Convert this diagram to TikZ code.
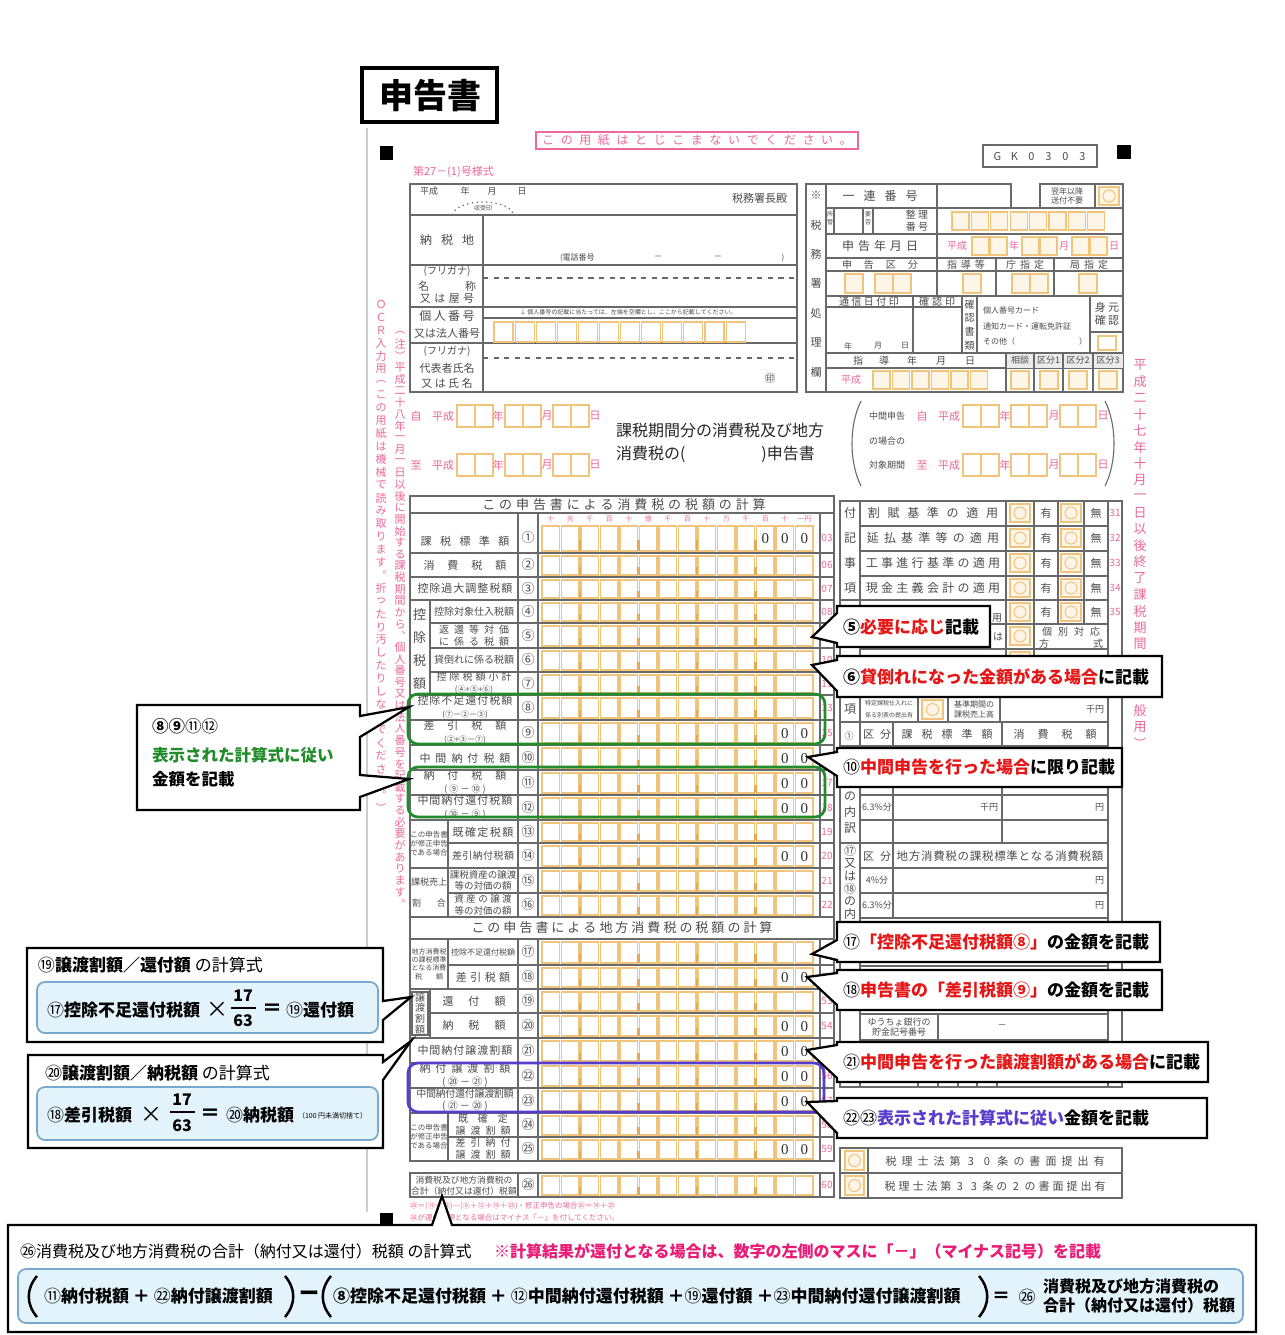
\documentclass[tikz,border=0pt]{standalone}
\usepackage{fontspec}
\setmainfont{Noto Sans CJK JP}
\newfontfamily\numfont{Liberation Serif}
\usetikzlibrary{calc}
\newdimen\pxu \pxu=0.56905pt
\newdimen\jsw
\newcommand\fpx[1]{\fontsize{#1\pxu}{1.2\dimexpr#1\pxu\relax}\selectfont}
\newcommand\cm[1]{{\mdseries #1}}
\makeatletter
\def\jspread#1#2{\hbox{\jsw=#1\relax\jspread@#2\relax}}
\def\jspread@#1{\ifx#1\relax\else\hbox to\jsw{\hss#1\hss}\expandafter\jspread@\fi}
\def\jvert#1#2{\vbox{\offinterlineskip\jsw=#1\relax\jvert@#2\relax}}
\def\jvert@#1{\ifx#1\relax\else\vbox to\jsw{\vss\hbox to1em{\hss#1\hss}\vss}\expandafter\jvert@\fi}
\makeatother
\definecolor{formgray}{RGB}{105,105,105}
\definecolor{formtext}{RGB}{75,75,75}
\definecolor{formpink}{RGB}{236,105,155}
\definecolor{boxor}{RGB}{240,196,122}
\definecolor{tickor}{RGB}{232,170,80}
\definecolor{boxfill}{RGB}{253,245,232}
\definecolor{crimson}{RGB}{228,22,22}
\definecolor{okgreen}{RGB}{32,140,42}
\definecolor{purp}{RGB}{88,60,205}
\definecolor{lbfill}{RGB}{226,243,252}
\definecolor{lbborder}{RGB}{120,168,205}
\definecolor{magen}{RGB}{232,28,118}
\definecolor{dimline}{RGB}{205,205,205}
\newcommand\crow[7]{%
  \draw[fl] (#1,#3) -- (834,#3);
  \node[cn] (c#7) at (528,{(#2+#3)/2}) {#4};
  \node[cd] (k#7) at (827,{(#2+#3)/2}) {#5};
  \foreach \k in {0,...,13}{\draw[obox] ({542+\k*19.5},{#2+3}) rectangle ({559.5+\k*19.5},{#3-2});}
  \foreach \k in {2,5,8,11}{\draw[dtick] ({541+\k*19.5},{(#2+#3)/2+2}) -- ({541+\k*19.5},{#3-2});}
  \ifnum#6>0 \foreach \k in {1,...,#6}{\node[zero] (z#7x\k) at ({550.75+(14-\k)*19.5},{(#2+#3)/2+1}) {0};}\fi
}
\begin{document}
\begin{tikzpicture}[x=0.2mm,y=-0.2mm,
  every node/.style={inner sep=0pt,outer sep=0pt},
  fl/.style={draw=formgray,line width=0.22mm},
  flt/.style={draw=formgray,line width=0.32mm},
  obox/.style={draw=boxor,line width=0.22mm,fill=white},
  cbox/.style={draw=boxor,line width=0.22mm,fill=boxfill},
  oring/.style={draw=boxor,line width=0.2mm},
  dtick/.style={draw=tickor,line width=0.5mm},
  lab/.style={text=formtext,font=\fpx{11}},
  pk/.style={text=formpink,font=\fpx{10}},
  cn/.style={text=formtext,font=\fpx{13}},
  cd/.style={text=formpink,font=\fpx{10}},
  zero/.style={text=black!80,font=\numfont\fpx{15}},
  cout/.style={draw=black,line width=0.45mm,fill=white,line join=miter},
  cot/.style={anchor=west,font=\fpx{17}\bfseries},
  lbox/.style={draw=lbborder,line width=0.35mm,fill=lbfill,rounded corners=1.6mm},
  hl/.style={line width=0.55mm,rounded corners=2mm},
]
\useasboundingbox (0,0) rectangle (1285,1335);
\fill[white] (0,0) rectangle (1285,1335);

% ---------- title ----------
\draw[line width=0.65mm] (362,68) rectangle (497,122);
\node[font=\fpx{34}\bfseries] (title) at (430,96) {申告書};

\draw[dimline,line width=0.3mm] (367,128) -- (367,1212);

\draw[formpink,line width=0.25mm] (536,132) rectangle (858,149);
\node[text=formpink,font=\fpx{12}] (nobind) at (697,140.5) {\jspread{18.6\pxu}{この用紙はとじこまないでください。}};
\fill (380,146) rectangle (393,160);
\fill (1117,145) rectangle (1131,159);
\draw[fl] (983,145) rectangle (1097,167);
\node[text=formtext,font=\fpx{11}] (gk) at (1040,156) {\jspread{17\pxu}{GK0303}};
\node[anchor=west,text=formpink,font=\fpx{11}] (fmt) at (413,172) {第27－(1)号様式};

% ---------- top-left block ----------
\draw[fl] (410,184) rectangle (797,392);
\foreach \y in {215,265,307,343} \draw[fl] (410,\y) -- (797,\y);
\draw[fl] (483,215) -- (483,392);
\draw[fl,dashed] (483,278) -- (797,278);
\draw[fl,dashed] (483,358) -- (797,358);
\draw[fl] (483,318) -- (797,318);
\node[lab,font=\fpx{9}] (hs) at (429,191) {平成};
\node[lab,font=\fpx{9}] (hy) at (465,191) {年};
\node[lab,font=\fpx{9}] (hm) at (492,191) {月};
\node[lab,font=\fpx{9}] (hd) at (522,191) {日};
\node[lab,anchor=east] (chief) at (787,198) {税務署長殿};
\draw[formgray,dotted,line width=0.25mm] (453,215) arc[start angle=180,end angle=360,x radius=30,y radius=13];
\node[lab,font=\fpx{6}] (juju) at (483,208) {収受印};
\node[lab,font=\fpx{12}] (nozei) at (447,240) {\jspread{21\pxu}{納税地}};
\node[lab,font=\fpx{8},anchor=west] (tel) at (560,258) {(電話番号};
\node[lab,font=\fpx{8}] (tel1) at (658,258) {－};
\node[lab,font=\fpx{8}] (tel2) at (718,258) {－};
\node[lab,font=\fpx{8}] (tel3) at (783,258) {)};
\node[lab,font=\fpx{10}] (furi1) at (447,271) {(フリガナ)};
\node[lab] (mei) at (447,286) {\hbox to 58\pxu{名\hfill 称}};
\node[lab] (yago) at (447,299) {\jspread{14.5\pxu}{又は屋号}};
\node[lab,font=\fpx{12}] (kojin) at (447,316) {\jspread{14.5\pxu}{個人番号}};
\node[lab] (hojin) at (447,333) {又は法人番号};
\node[lab,font=\fpx{6},anchor=west] (note4) at (520,312) {↓ 個人番号の記載に当たっては、左端を空欄とし、ここから記載してください。};
\foreach \k in {0,...,11} \draw[obox] ({494+\k*21.1},322) rectangle ({494+\k*21.1+19},342);
\node[lab,font=\fpx{10}] (furi2) at (447,351) {(フリガナ)};
\node[lab] (daihyo) at (447,368) {代表者氏名};
\node[lab] (shimei) at (447,383) {\jspread{13.5\pxu}{又は氏名}};
\node[lab] (inn) at (770,378) {㊞};

% ---------- top-right block ----------
\draw[fl] (806,184) rectangle (826,392);
\node[lab,font=\fpx{11},anchor=north] (zeimu) at (816,181) {\jvert{29.4\pxu}{※税務署処理欄}};
\draw[fl] (826,184) rectangle (1011,208);
\draw[fl] (937,184) -- (937,296);
\node[lab,font=\fpx{12}] (renban) at (880,196) {\jspread{21\pxu}{一連番号}};
\draw[fl] (1040,184) rectangle (1123,208);
\draw[fl] (1095,184) -- (1095,208);
\node[lab,font=\fpx{8},align=center] (yokunen) at (1067,196) {翌年以降\\送付不要};
\draw[cbox] (1099,187) rectangle (1119,205);
\draw[oring] (1109,196) circle (6);
\draw[fl] (826,208) rectangle (1123,392);
\foreach \y in {234,258,271,296,353,368} \draw[fl] (826,\y) -- (1123,\y);
\draw[fl] (834,208) -- (834,234);
\draw[fl] (863,208) -- (863,234);
\draw[fl] (873,208) -- (873,234);
\node[lab,font=\fpx{6},anchor=north] (shokan) at (830,210) {\jvert{8\pxu}{所管}};
\node[lab,font=\fpx{6},anchor=north] (yohi) at (868,210) {\jvert{8\pxu}{要否}};
\node[lab,font=\fpx{10},align=center] (seiri) at (917,221) {整 理\\番 号};
\foreach \k in {0,...,7} \draw[cbox] ({952+\k*19.4},212) rectangle ({969+\k*19.4},230);
\node[lab,font=\fpx{12}] (shinkokubi) at (880,246) {\jspread{16\pxu}{申告年月日}};
\node[pk] (sh1) at (957,246) {平成};
\foreach \x in {972,990,1022,1040,1072,1090} \draw[cbox] (\x,237) rectangle ({\x+17},255);
\node[pk] (sh2) at (1014,246) {年};
\node[pk] (sh3) at (1064,246) {月};
\node[pk] (sh4) at (1114,246) {日};
\node[lab,font=\fpx{10}] (kubun) at (880,264.5) {\jspread{22\pxu}{申告区分}};
\node[lab,font=\fpx{10}] (shido) at (966,264.5) {\jspread{14\pxu}{指導等}};
\node[lab,font=\fpx{10}] (chosh) at (1025,264.5) {\jspread{14\pxu}{庁指定}};
\node[lab,font=\fpx{10}] (kyoku) at (1089,264.5) {\jspread{14\pxu}{局指定}};
\draw[fl] (996,258) -- (996,296);
\draw[fl] (1054,258) -- (1054,296);
\foreach \x in {845,875,893,963,1012,1030,1079} \draw[cbox] (\x,274) rectangle ({\x+18},293);
\draw[fl] (826,307) -- (962,307);
\draw[fl] (913,296) -- (913,353);
\draw[fl] (962,296) -- (962,353);
\draw[fl] (977,296) -- (977,353);
\draw[fl] (1090,296) -- (1090,353);
\draw[fl] (1090,332) -- (1123,332);
\node[lab,font=\fpx{10}] (tsushin) at (869,301.5) {\jspread{12.5\pxu}{通信日付印}};
\node[lab,font=\fpx{10}] (kakunin) at (937,301.5) {\jspread{13\pxu}{確認印}};
\node[lab,font=\fpx{10},anchor=north] (kakusho) at (969.5,298) {\jvert{13.5\pxu}{確認書類}};
\node[lab,font=\fpx{8},anchor=west] (card1) at (983,310) {個人番号カード};
\node[lab,font=\fpx{8},anchor=west] (card2) at (983,326) {通知カード・運転免許証};
\node[lab,font=\fpx{8},anchor=west] (card3) at (983,341) {その他（};
\node[lab,font=\fpx{8}] (card4) at (1083,341) {）};
\node[lab,font=\fpx{11},align=center] (mimoto) at (1107,314) {身 元\\確 認};
\draw[obox] (1098,336) rectangle (1116,350);
\node[lab,font=\fpx{8}] (ty) at (848,346) {年};
\node[lab,font=\fpx{8}] (tm) at (878,346) {月};
\node[lab,font=\fpx{8}] (td) at (905,346) {日};
\fill[black!8] (1006,353.5) rectangle (1122.5,367.5);
\foreach \x in {1006,1034,1063,1093} \draw[fl] (\x,353) -- (\x,392);
\node[lab,font=\fpx{10}] (s1) at (858,360.5) {指};
\node[lab,font=\fpx{10}] (s2) at (884,360.5) {導};
\node[lab,font=\fpx{10}] (s3) at (912,360.5) {年};
\node[lab,font=\fpx{10}] (s4) at (941,360.5) {月};
\node[lab,font=\fpx{10}] (s5) at (970,360.5) {日};
\node[lab,font=\fpx{9}] (sodan) at (1020,360.5) {相談};
\node[lab,font=\fpx{9}] (kb1) at (1048.5,360.5) {区分1};
\node[lab,font=\fpx{9}] (kb2) at (1078,360.5) {区分2};
\node[lab,font=\fpx{9}] (kb3) at (1108,360.5) {区分3};
\node[pk] (sh5) at (851,380) {平成};
\foreach \k in {0,...,5} \draw[cbox] ({873+\k*19.5},371) rectangle ({890+\k*19.5},389);
\foreach \x in {1011,1040,1069,1099} \draw[cbox] (\x,371) rectangle ({\x+18},389);

% ---------- period rows ----------
\foreach \yc/\jj/\nm in {416/自/a,465/至/b}{
  \node[pk,font=\fpx{11}] (pz\nm) at (416,\yc) {\jj};
  \node[pk,font=\fpx{11}] (ph\nm) at (443,\yc) {平成};
  \foreach \x in {457,475,505,523,553,571} \draw[obox] (\x,{\yc-11}) rectangle ({\x+18},{\yc+11});
  \node[pk,font=\fpx{11}] (py\nm) at (498,\yc) {年};
  \node[pk,font=\fpx{11}] (pm\nm) at (547,\yc) {月};
  \node[pk,font=\fpx{11}] (pd\nm) at (595,\yc) {日};
  \node[pk,font=\fpx{11}] (qz\nm) at (922,\yc) {\jj};
  \node[pk,font=\fpx{11}] (qh\nm) at (949,\yc) {平成};
  \foreach \x in {963,981,1011,1029,1060,1078} \draw[obox] (\x,{\yc-11}) rectangle ({\x+18},{\yc+11});
  \node[pk,font=\fpx{11}] (qy\nm) at (1005,\yc) {年};
  \node[pk,font=\fpx{11}] (qm\nm) at (1054,\yc) {月};
  \node[pk,font=\fpx{11}] (qd\nm) at (1103,\yc) {日};
}
\node[lab,font=\fpx{9}] (chukan) at (887,416) {中間申告};
\node[lab,font=\fpx{9}] (baai) at (887,441) {の場合の};
\node[lab,font=\fpx{9}] (taisho) at (887,465) {対象期間};
\draw[fl] (861,401) .. controls (849,425) and (849,462) .. (861,486);
\draw[fl] (1105,401) .. controls (1117,425) and (1117,462) .. (1105,486);
\node[anchor=west,font=\fpx{16},text=black!85] (kikan1) at (616,430) {課税期間分の消費税及び地方};
\node[anchor=west,font=\fpx{16},text=black!85] (kikan2) at (616,454) {消費税の(\hspace*{76\pxu})申告書};

% ---------- calculation table ----------
\draw[flt] (410,496) rectangle (834,1161);
\draw[fl] (410,513) -- (834,513);
\node[text=formtext,font=\fpx{13}] (calc1) at (624,505) {\jspread{16.9\pxu}{この申告書による消費税の税額の計算}};
\foreach \x in {518,538,820} {\draw[fl] (\x,513) -- (\x,917); \draw[fl] (\x,939) -- (\x,1161);}
\draw[fl] (430,600) -- (430,695);
\draw[fl] (448,820) -- (448,917);
\draw[fl] (448,939) -- (448,989);
\draw[fl] (430,989) -- (430,1038);
\draw[fl] (448,1113) -- (448,1161);
\foreach \t [count=\i from 0] in {十,兆,千,百,十,億,千,百,十,万,千,百,十,一円}
  \node[text=formpink,font=\fpx{7}] (dh\i) at ({550.75+\i*19.5},519) {\t};
\crow{410}{523}{553}{①}{03}{3}{1}
\crow{410}{553}{577}{②}{06}{0}{2}
\crow{410}{577}{600}{③}{07}{0}{3}
\crow{430}{600}{623}{④}{08}{0}{4}
\crow{430}{623}{648}{⑤}{09}{0}{5}
\crow{430}{648}{672}{⑥}{10}{0}{6}
\crow{410}{672}{695}{⑦}{11}{0}{7}
\crow{410}{695}{720}{⑧}{13}{0}{8}
\crow{410}{720}{745}{⑨}{15}{2}{9}
\crow{410}{745}{770}{⑩}{16}{2}{10}
\crow{410}{770}{795}{⑪}{17}{2}{11}
\crow{410}{795}{820}{⑫}{18}{2}{12}
\crow{448}{820}{843}{⑬}{19}{0}{13}
\crow{410}{843}{868}{⑭}{20}{2}{14}
\crow{448}{868}{893}{⑮}{21}{0}{15}
\crow{410}{893}{917}{⑯}{22}{0}{16}
\draw[flt] (410,917) -- (834,917);
\draw[fl] (410,939) -- (834,939);
\node[text=formtext,font=\fpx{13}] (calc2) at (622,928) {\jspread{16\pxu}{この申告書による地方消費税の税額の計算}};
\crow{448}{939}{965}{⑰}{51}{0}{17}
\crow{410}{965}{989}{⑱}{52}{2}{18}
\crow{430}{989}{1013}{⑲}{53}{0}{19}
\crow{410}{1013}{1038}{⑳}{54}{2}{20}
\crow{410}{1038}{1063}{㉑}{55}{2}{21}
\crow{410}{1063}{1088}{㉒}{56}{2}{22}
\crow{410}{1088}{1113}{㉓}{57}{2}{23}
\crow{448}{1113}{1137}{㉔}{58}{0}{24}
\crow{410}{1137}{1161}{㉕}{59}{2}{25}
\draw[flt] (410,1173) rectangle (834,1197);
\foreach \x in {518,538,820} \draw[fl] (\x,1173) -- (\x,1197);
\crow{410}{1173}{1197}{㉖}{60}{0}{26}
\draw[flt] (410,1197) -- (834,1197);

% row labels
\node[lab] (l1) at (465,541) {\jspread{19.4\pxu}{課税標準額}};
\node[lab] (l2) at (465,565) {\jspread{24\pxu}{消費税額}};
\node[lab] (l3) at (465,588.5) {\jspread{12\pxu}{控除過大調整税額}};
\node[lab,font=\fpx{13},anchor=north] (lkj) at (419.5,603) {\jvert{23\pxu}{控除税額}};
\node[lab,font=\fpx{10}] (l4) at (474,611.5) {\jspread{10\pxu}{控除対象仕入税額}};
\node[lab,font=\fpx{10},align=center] (l5) at (474,635.5) {\jspread{15\pxu}{返還等対価}\\\jspread{15\pxu}{に係る税額}};
\node[lab,font=\fpx{10}] (l6) at (474,660) {\jspread{10\pxu}{貸倒れに係る税額}};
\node[lab,font=\fpx{10},align=center] (l7) at (474,683.5) {\jspread{13\pxu}{控除税額小計}\\{\fpx{8}(④+⑤+⑥)}};
\node[lab,align=center] (l8) at (465,707.5) {\jspread{12\pxu}{控除不足還付税額}\\{\fpx{8}(⑦－②－③)}};
\node[lab,align=center] (l9) at (465,732.5) {\jspread{24\pxu}{差引税額}\\{\fpx{8}(②+③－⑦)}};
\node[lab] (l10) at (465,758) {\jspread{16\pxu}{中間納付税額}};
\node[lab,align=center] (l11) at (465,782.5) {\jspread{24\pxu}{納付税額}\\{\fpx{9}( ⑨ － ⑩ )}};
\node[lab,align=center] (l12) at (465,807.5) {\jspread{12\pxu}{中間納付還付税額}\\{\fpx{9}( ⑩ － ⑨ )}};
\node[lab,font=\fpx{7.5},align=center] (s1314) at (429,844) {この申告書\\が修正申告\\である場合};
\node[lab] (l13) at (483,832) {\jspread{12.4\pxu}{既確定税額}};
\node[lab,font=\fpx{10}] (l14) at (483,856) {\jspread{10.4\pxu}{差引納付税額}};
\node[lab,font=\fpx{9}] (s15a) at (429,882) {課税売上};
\node[lab,font=\fpx{9}] (s15b) at (429,903) {\hbox to 34\pxu{割\hfill 合}};
\node[lab,font=\fpx{9.5},align=center] (l15) at (483,880.5) {課税資産の譲渡\\等の対価の額};
\node[lab,font=\fpx{9.5},align=center] (l16) at (483,905) {\jspread{12\pxu}{資産の譲渡}\\等の対価の額};
\node[lab,font=\fpx{7},align=center] (s1718) at (429,964) {地方消費税\\の課税標準\\となる消費\\税\hspace{14\pxu}額};
\node[lab,font=\fpx{8}] (l17) at (483,952) {控除不足還付税額};
\node[lab] (l18) at (483,977) {\jspread{14.5\pxu}{差引税額}};
\draw[fl] (412,992) rectangle (428,1035);
\node[lab,font=\fpx{10},anchor=north] (s1920) at (420,992) {\jvert{10.7\pxu}{譲渡割額}};
\node[lab] (l19) at (474,1001) {\jspread{26\pxu}{還付額}};
\node[lab] (l20) at (474,1025.5) {\jspread{26\pxu}{納税額}};
\node[lab] (l21) at (465,1050.5) {\jspread{12\pxu}{中間納付譲渡割額}};
\node[lab,align=center] (l22) at (465,1075.5) {\jspread{16\pxu}{納付譲渡割額}\\{\fpx{10}( ⑳ － ㉑ )}};
\node[lab,font=\fpx{10},align=center] (l23) at (465,1100.5) {\jspread{9.7\pxu}{中間納付還付譲渡割額}\\( ㉑ － ⑳ )};
\node[lab,font=\fpx{7.5},align=center] (s2425) at (429,1137) {この申告書\\が修正申告\\である場合};
\node[lab,font=\fpx{10},align=center] (l24) at (483,1125) {\jspread{20\pxu}{既確定}\\\jspread{15\pxu}{譲渡割額}};
\node[lab,font=\fpx{10},align=center] (l25) at (483,1149) {\jspread{15\pxu}{差引納付}\\\jspread{15\pxu}{譲渡割額}};
\node[lab,font=\fpx{8.8},align=center] (l26) at (464,1185.5) {消費税及び地方消費税の\\合計（納付又は還付）税額};
\node[anchor=west,text=formpink,font=\fpx{7.5}] (nt1) at (410,1206) {㉖＝(⑪＋㉒)－(⑧＋⑫＋⑲＋㉓)・修正申告の場合㉖＝⑭＋㉕};
\node[anchor=west,text=formpink,font=\fpx{7.5}] (nt2) at (410,1218) {㉖が還付税額となる場合はマイナス「－」を付してください。};

% ---------- right block ----------
\draw[fl] (840,501) rectangle (1122,1087);
\draw[fl] (1108,501) -- (1108,1087);
\draw[fl] (860,501) -- (860,1087);
\foreach \y in {526,551,576,624,649,673,697,770,795,820,868,893,918,942,966,990,1014,1040,1064} \draw[fl] (860,\y) -- (1108,\y);
\foreach \y in {600,722,746,843} \draw[fl] (840,\y) -- (1108,\y);
\foreach \x in {1006,1034,1058,1084} \draw[fl] (\x,501) -- (\x,624);
\draw[fl] (1006,624) -- (1006,673);
\draw[fl] (1034,624) -- (1034,673);
\foreach \x in {918,948,1000} \draw[fl] (\x,697) -- (\x,722);
\draw[fl] (893,722) -- (893,918);
\draw[fl] (1002,722) -- (1002,843);
\draw[fl] (938,1014) -- (938,1040);
\foreach \x in {918,938,958,977,997} \draw[fl] (\x,1064) -- (\x,1087);
\foreach \c/\y [count=\i] in {付/513,記/538,事/563,項/588} \node[lab,font=\fpx{12}] (fkc\i) at (850,\y) {\c};
\node[lab,font=\fpx{12}] (fk1) at (933,513) {\jspread{19.7\pxu}{割賦基準の適用}};
\node[lab,font=\fpx{12}] (fk2) at (933,538) {\jspread{17.2\pxu}{延払基準等の適用}};
\node[lab,font=\fpx{12}] (fk3) at (933,563) {\jspread{15.3\pxu}{工事進行基準の適用}};
\node[lab,font=\fpx{12}] (fk4) at (933,588) {\jspread{15.3\pxu}{現金主義会計の適用}};
\node[lab,font=\fpx{10}] (fk5) at (997,618) {用};
\foreach \y/\cc [count=\i] in {513/31,538/32,563/33,588/34,612/35}{
  \draw[cbox] (1010,{\y-9}) rectangle (1030,{\y+9});
  \draw[oring] (1020,\y) circle (6);
  \draw[cbox] (1061,{\y-9}) rectangle (1081,{\y+9});
  \draw[oring] (1071,\y) circle (6);
  \node[lab] (yu\i) at (1046,\y) {有};
  \node[lab] (mu\i) at (1096,\y) {無};
  \node[cd] (fc\i) at (1115,\y) {\cc};
}
\foreach \y [count=\i] in {636,661}{
  \draw[cbox] (1010,{\y-9}) rectangle (1030,{\y+9});
  \draw[oring] (1020,\y) circle (6);
}
\node[lab,font=\fpx{10}] (ha) at (998,637) {は};
\node[lab,font=\fpx{10},align=center] (kobetsu) at (1071,638) {\jspread{16\pxu}{個別対応}\\\hbox to 64\pxu{方\hfill 式}};
\node[lab,font=\fpx{12}] (kou) at (850,709) {項};
\node[lab,font=\fpx{6}] (tokutei1) at (889,703.5) {特定課税仕入れに};
\node[lab,font=\fpx{6}] (tokutei2) at (889,715.5) {係る別表の提出有};
\draw[cbox] (922,700) rectangle (943,719);
\draw[oring] (932.5,709.5) circle (6);
\node[lab,font=\fpx{8},align=center] (kijun) at (974,709.5) {基準期間の\\課税売上高};
\node[lab,font=\fpx{9},anchor=east] (senen) at (1104,709.5) {千円};
\node[lab,font=\fpx{9}] (maru1) at (849,736) {①};
\node[lab] (kubun2) at (877,734) {\hbox to 28\pxu{区\hfill 分}};
\node[lab] (kzh) at (947,734) {\jspread{20\pxu}{課税標準額}};
\node[lab] (shz) at (1055,734) {\jspread{24\pxu}{消費税額}};
\node[lab,font=\fpx{12},anchor=north] (uchi1) at (850,789) {\jvert{15.5\pxu}{の内訳}};
\node[lab,font=\fpx{9}] (p63a) at (877,807.5) {6.3\%分};
\node[lab,font=\fpx{9},anchor=east] (sen2) at (998,807.5) {千円};
\node[lab,font=\fpx{9},anchor=east] (en2) at (1104,807.5) {円};
\node[lab,font=\fpx{12},anchor=north] (uchi2) at (850,845) {\jvert{12.6\pxu}{⑰又は⑱の内}};
\node[lab] (kubun3) at (877,856) {\hbox to 28\pxu{区\hfill 分}};
\node[lab,font=\fpx{11.5}] (chihou) at (1000,856) {\jspread{12.2\pxu}{地方消費税の課税標準となる消費税額}};
\node[lab,font=\fpx{9}] (p4) at (877,880.5) {4\%分};
\node[lab,font=\fpx{9},anchor=east] (en3) at (1104,880.5) {円};
\node[lab,font=\fpx{9}] (p63b) at (877,905.5) {6.3\%分};
\node[lab,font=\fpx{9},anchor=east] (en4) at (1104,905.5) {円};
\node[lab,font=\fpx{9},align=center] (yucho) at (899,1027) {ゆうちょ銀行の\\貯金記号番号};
\node[lab,font=\fpx{9}] (yucho2) at (1002,1027) {－};
\draw[fl] (840,1148) rectangle (1122,1198);
\draw[fl] (840,1173) -- (1122,1173);
\draw[fl] (868,1148) -- (868,1198);
\foreach \y [count=\i] in {1160.5,1185.5}{
  \draw[cbox] (845,{\y-9.5}) rectangle (864,{\y+9.5});
  \draw[oring] (854.5,\y) circle (6);
}
\node[lab] (zr30) at (995,1161) {\jspread{16\pxu}{税理士法第30条の書面提出有}};
\node[lab] (zr33) at (995,1186) {\jspread{14\pxu}{税理士法第33条の2の書面提出有}};

% ---------- pink vertical notes ----------
\node[anchor=north,text=formpink,font=\fpx{11}] (ocr) at (381,298) {\jvert{12.9\pxu}{ＯＣＲ入力用︵この用紙は機械で読み取ります︒折ったり汚したりしないでください︒︶}};
\node[anchor=north,text=formpink,font=\fpx{11}] (chu) at (400,327) {\jvert{11.65\pxu}{︵注︶平成二十八年一月一日以後に開始する課税期間から︑個人番号又は法人番号を記載する必要があります︒}};
\node[anchor=north,text=formpink,font=\fpx{13}] (ippan) at (1140,357) {\jvert{16.4\pxu}{平成二十七年十月一日以後終了課税期間}};
\node[anchor=north,text=formpink,font=\fpx{13}] (ippan2) at (1140,702) {\jvert{16.4\pxu}{般用︶}};

% ---------- highlight frames ----------
\draw[okgreen,hl] (408,694) rectangle (825,744);
\draw[okgreen,hl] (408,767) rectangle (825,817);
\draw[purp,hl] (408,1063) rectangle (824,1112);

\fill (380,1213) rectangle (393,1227);

% ---------- callouts right ----------
\path[cout] (837,606) -- (990,606) -- (990,647) -- (837,647) -- (837,643) -- (812,637) -- (837,613) -- cycle;
\node[cot] (co5) at (843,627) {⑤\textcolor{crimson}{必要に応じ}記載};
\path[cout] (837,656) -- (1162,656) -- (1162,697) -- (837,697) -- (837,691) -- (812,665) -- (837,660) -- cycle;
\node[cot] (co6) at (843,677) {⑥\textcolor{crimson}{貸倒れになった金額がある場合}に記載};
\path[cout] (837,748) -- (1122,748) -- (1122,787) -- (837,787) -- (837,776) -- (808,757) -- (837,752) -- cycle;
\node[cot] (co10) at (843,767.5) {\cm{⑩}\textcolor{crimson}{中間申告を行った場合}に限り記載};
\path[cout] (837,922) -- (1160,922) -- (1160,962) -- (837,962) -- (837,960) -- (812,954) -- (837,940) -- cycle;
\node[cot] (co17) at (843,942) {\cm{⑰}\textcolor{crimson}{「控除不足還付税額⑧」}の金額を記載};
\path[cout] (837,970) -- (1162,970) -- (1162,1010) -- (837,1010) -- (837,1005) -- (807,977) -- (837,973) -- cycle;
\node[cot] (co18) at (843,990) {\cm{⑱}\textcolor{crimson}{申告書の「差引税額⑨」}の金額を記載};
\path[cout] (837,1042) -- (1208,1042) -- (1208,1082) -- (837,1082) -- (837,1078) -- (807,1050) -- (837,1045) -- cycle;
\node[cot] (co21) at (843,1062) {\cm{㉑}\textcolor{crimson}{中間申告を行った譲渡割額がある場合}に記載};
\path[cout] (837,1098) -- (1207,1098) -- (1207,1138) -- (837,1138) -- (837,1133) -- (807,1102) -- (837,1101) -- cycle;
\node[cot] (co22) at (843,1118) {\cm{㉒㉓}\textcolor{purp}{表示された計算式に従い}金額を記載};

% ---------- callouts left ----------
\path[cout] (137,705) -- (360,705) -- (360,716) -- (409,707) -- (360,737) -- (360,775) -- (409,779) -- (360,797) -- (360,810) -- (137,810) -- cycle;
\node[cot,font=\fpx{16.5}\bfseries] (t8a) at (152,726) {⑧⑨\cm{⑪⑫}};
\node[cot,font=\fpx{16.5}\bfseries,text=okgreen] (t8b) at (152,755) {表示された計算式に従い};
\node[cot,font=\fpx{16.5}\bfseries] (t8c) at (152,779) {金額を記載};

\path[cout] (27,948) -- (383,948) -- (383,1001) -- (411,997) -- (383,1020) -- (383,1042) -- (27,1042) -- cycle;
\node[anchor=west,font=\fpx{17}] (h19) at (38,965) {\textbf{\cm{⑲}譲渡割額／還付額} の計算式};
\draw[lbox] (37,982) rectangle (378,1033);
\node[cot] (f19a) at (47,1010) {\cm{⑰}控除不足還付税額};
\node[font=\fpx{22}] (f19x) at (217,1010) {×};
\node[font=\fpx{16}\bfseries] (f19n) at (243,996) {17};
\draw[line width=0.45mm] (231,1008) -- (256,1008);
\node[font=\fpx{16}\bfseries] (f19d) at (243,1021) {63};
\node[font=\fpx{20}\bfseries] (f19e) at (272,1010) {＝};
\node[cot] (f19r) at (286,1010) {\cm{⑲}還付額};

\path[cout] (28,1055) -- (383,1055) -- (383,1062) -- (411,1041) -- (383,1080) -- (383,1148) -- (28,1148) -- cycle;
\node[anchor=west,font=\fpx{17}] (h20) at (45,1073) {\textbf{\cm{⑳}譲渡割額／納税額} の計算式};
\draw[lbox] (37,1087) rectangle (378,1140);
\node[cot] (f20a) at (47,1115) {\cm{⑱}差引税額};
\node[font=\fpx{22}] (f20x) at (151,1115) {×};
\node[font=\fpx{16}\bfseries] (f20n) at (182,1100) {17};
\draw[line width=0.45mm] (170,1112) -- (195,1112);
\node[font=\fpx{16}\bfseries] (f20d) at (182,1126) {63};
\node[font=\fpx{20}\bfseries] (f20e) at (210,1115) {＝};
\node[cot] (f20r) at (226,1115) {\cm{⑳}納税額};
\node[anchor=west,font=\fpx{7}] (f20s) at (298,1116) {（100 円未満切捨て）};

% ---------- bottom callout ----------
\path[cout] (8,1225) -- (432,1225) -- (442,1196) -- (452,1225) -- (1256,1225) -- (1256,1332) -- (8,1332) -- cycle;
\node[anchor=west,font=\fpx{16}] (h26) at (20,1251) {㉖消費税及び地方消費税の合計（納付又は還付）税額 の計算式};
\node[anchor=west,font=\fpx{16}\bfseries,text=magen] (h26n) at (494,1251) {※計算結果が還付となる場合は、数字の左側のマスに「－」（マイナス記号）を記載};
\draw[lbox] (18,1269) rectangle (1243,1323);
\draw[line width=0.5mm] (37,1276) .. controls (26,1289) and (26,1304) .. (37,1317);
\node[cot] (fa) at (44,1296) {\cm{⑪}納付税額 ＋ \cm{㉒}納付譲渡割額};
\draw[line width=0.5mm] (285,1276) .. controls (296,1289) and (296,1304) .. (285,1317);
\node[font=\fpx{20}\bfseries] (fminus) at (309,1296) {ー};
\draw[line width=0.5mm] (331,1276) .. controls (320,1289) and (320,1304) .. (331,1317);
\node[cot] (fb) at (333,1296) {⑧控除不足還付税額 ＋ \cm{⑫}中間納付還付税額 ＋\cm{⑲}還付額 ＋\cm{㉓}中間納付還付譲渡割額};
\draw[line width=0.5mm] (979,1276) .. controls (990,1289) and (990,1304) .. (979,1317);
\node[font=\fpx{18}\bfseries] (feq) at (1001,1297) {＝};
\node[font=\fpx{17}] (f26) at (1027,1297) {㉖};
\node[anchor=west,font=\fpx{16}\bfseries,align=left] (fr) at (1043,1296) {消費税及び地方消費税の\\合計（納付又は還付）税額};
\end{tikzpicture}
\end{document}
